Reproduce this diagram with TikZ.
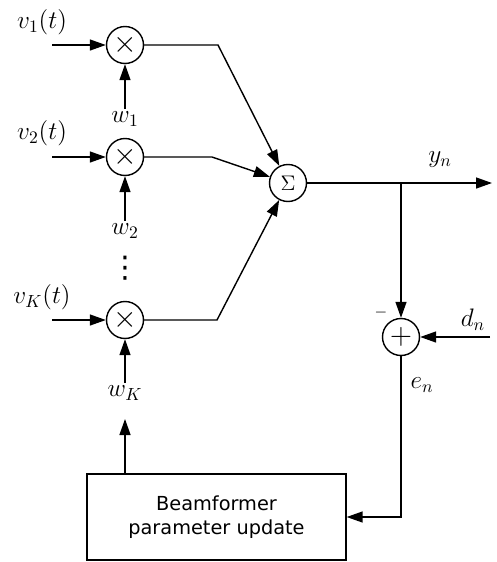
\documentclass[tikz,border=0pt]{standalone}
\usepackage{fontspec}
\usepackage{tikz}
\usetikzlibrary{arrows.meta, calc, positioning}
\newfontfamily\boxfont{DejaVu Sans}

\begin{document}
\begin{tikzpicture}[
  x=0.02cm, y=-0.02cm,
  line width=0.8pt,
  op/.style={circle, draw, minimum size=0.74cm, inner sep=0pt},
  lbl/.style={font=\Large, inner sep=1pt},
  updbox/.style={draw, minimum width=5.18cm, minimum height=1.72cm, align=center, font=\boxfont\fontsize{11}{14}\selectfont},
  >={Triangle[length=3.2mm, width=2.2mm]}
]
\useasboundingbox (0,0) rectangle (497,562);

% Multipliers
\node[op] (mul1) at (125,45) {\LARGE$\times$};
\node[op] (mul2) at (125,157) {\LARGE$\times$};
\node[op] (mulK) at (125,320) {\LARGE$\times$};

% Sum and error
\node[op] (sum) at (288,183) {\large$\Sigma$};
\node[op] (add) at (401,337) {\LARGE$+$};

% Update block
\node[updbox] (upd) at (216.5,517) {Beamformer\\parameter update};

% Labels
\node[lbl] (v1) at (42,22) {$v_1(t)$};
\node[lbl] (v2) at (42,133) {$v_2(t)$};
\node[lbl] (vK) at (42,297) {$v_K(t)$};
\node[lbl] (w1) at (125,119) {$w_1$};
\node[lbl] (w2) at (125,231) {$w_2$};
\node[lbl] (wK) at (125,393) {$w_K$};
\node[lbl, font=\boxfont\fontsize{17}{17}\selectfont] (dots) at (125,268) {⋮};
\node[lbl] (yn) at (440,160) {$y_n$};
\node[lbl] (dn) at (473,320) {$d_n$};
\node[lbl] (en) at (422,385) {$e_n$};
\node[lbl, font=\small] (minus) at (381,313) {$-$};

% Free ends and bends
\coordinate (in1) at (52,45);
\coordinate (in2) at (52,157);
\coordinate (inK) at (52,320);
\coordinate (bend1) at (218,45);
\coordinate (bend2) at (212,157);
\coordinate (bendK) at (217,320);
\coordinate (out) at (492,183);
\coordinate (tap) at (401,183);
\coordinate (din) at (490,337);
\coordinate (wKtip) at (125,419);

% Arrows
\draw[->] (in1) -- (mul1);
\draw[->] (in2) -- (mul2);
\draw[->] (inK) -- (mulK);
\draw[->] (w1) -- (mul1);
\draw[->] (w2) -- (mul2);
\draw[->] (wK) -- (mulK);
\draw[->] (mul1) -- (bend1) -- (sum);
\draw[->] (mul2) -- (bend2) -- (sum);
\draw[->] (mulK) -- (bendK) -- (sum);
\draw[->] (sum) -- (out);
\draw[->] (tap) -- (add);
\draw[->] (din) -- (add);
\draw[->] (add) |- (upd);
\draw[->] (upd.north -| wK) -- (wKtip);
\end{tikzpicture}
\end{document}
